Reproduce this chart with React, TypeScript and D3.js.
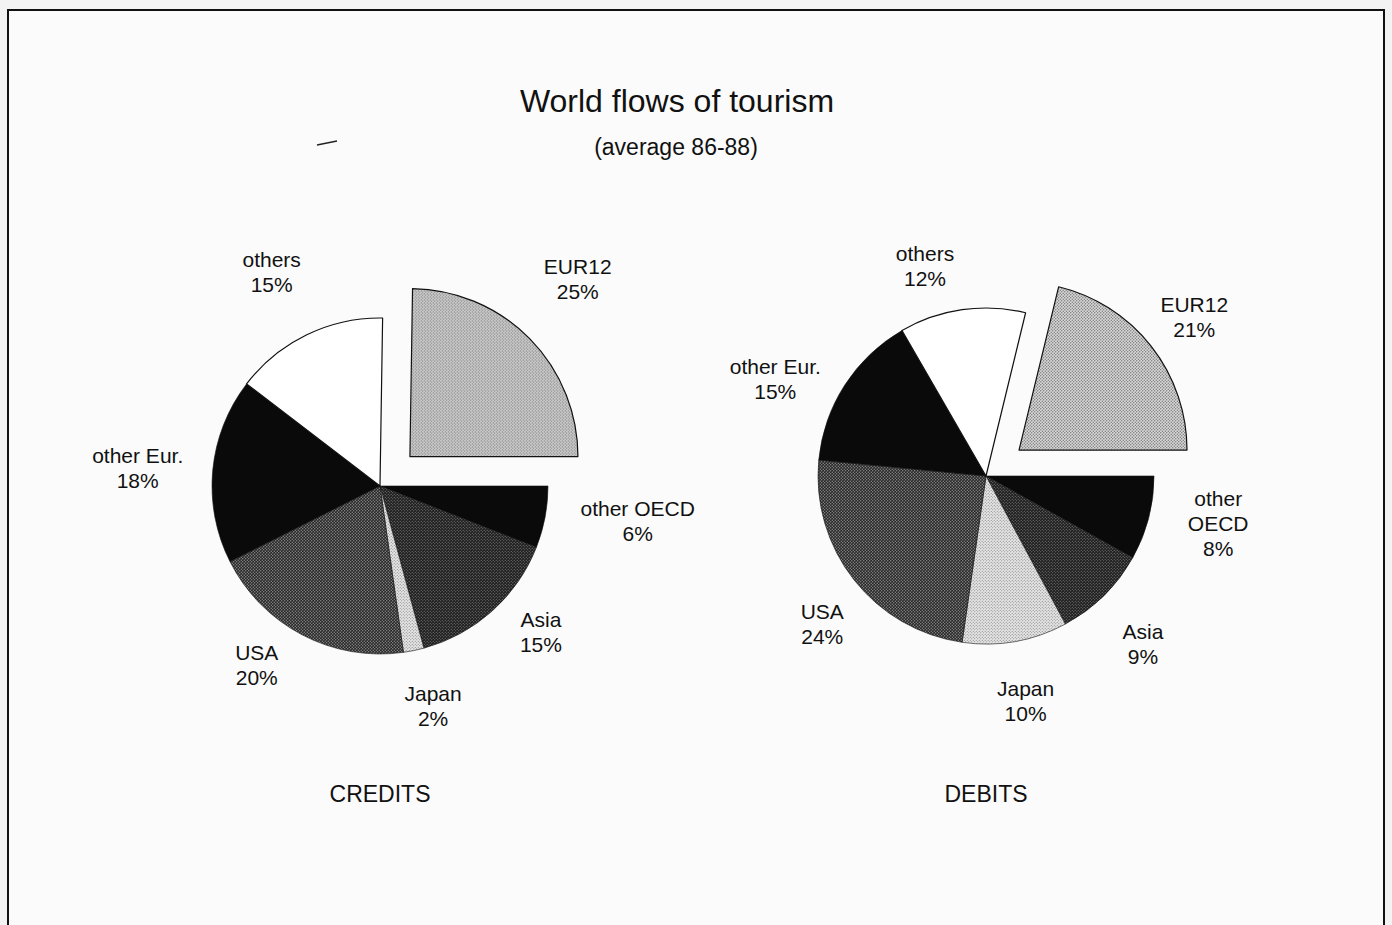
import React, { useEffect, useRef } from "react";
import * as d3 from "d3";

// shares in percent, clockwise from the exploded EUR12 slice
const categories = ["EUR12", "other OECD", "Asia", "Japan", "USA", "other Eur.", "others"];
const creditShares = [25, 6, 15, 2, 20, 18, 15];
const debitShares = [21, 8, 9, 10, 24, 15, 12];

const W = 1392;
const H = 925;
const FONT = "'Liberation Sans', Arial, Helvetica, sans-serif";

const fills = ["url(#pEur)", "#0a0a0a", "url(#pAsia)", "url(#pJapan)", "url(#pUsa)", "#0a0a0a", "#ffffff"];

// label placement tweaks: distance from centre and angle nudge (degrees)
const charts = [
  {
    title: "CREDITS", shares: creditShares, cx: 380, cy: 486, wrap: false,
    labelR: [244, 260, 217, 226, 217, 243, 240],
    labelDA: [-2, -3, -6, -2, 7, -1, -1],
  },
  {
    title: "DEBITS", shares: debitShares, cx: 986, cy: 476, wrap: true,
    labelR: [220, 237, 230, 228, 221, 232, 219],
    labelDA: [1, -3, 1.5, 0, -4, -8, -8],
  },
];

const App = () => {
  const ref = useRef<SVGSVGElement>(null);

  useEffect(() => {
    document.body.style.margin = "0";
    const svg = d3.select(ref.current);
    svg.selectAll("*").remove();
    svg.attr("width", W).attr("height", H);

    // stipple patterns
    const defs = svg.append("defs");
    const stipple = (id, bg, dot, r) => {
      const p = defs.append("pattern").attr("id", id).attr("patternUnits", "userSpaceOnUse")
        .attr("width", 3).attr("height", 3);
      p.append("rect").attr("width", 3).attr("height", 3).attr("fill", bg);
      p.append("circle").attr("cx", 0.75).attr("cy", 0.75).attr("r", r).attr("fill", dot);
      p.append("circle").attr("cx", 2.25).attr("cy", 2.25).attr("r", r).attr("fill", dot);
    };
    stipple("pEur", "#dcdcdc", "#6a6a6a", 0.7);
    stipple("pJapan", "#e6e6e6", "#7a7a7a", 0.6);
    stipple("pAsia", "#1e1e1e", "#8a8a8a", 0.6);
    stipple("pUsa", "#262626", "#9a9a9a", 0.65);

    svg.append("rect").attr("width", W).attr("height", H).attr("fill", "#f3f3f3");
    svg.append("rect").attr("x", 8).attr("y", 10).attr("width", 1376).attr("height", 940)
      .attr("fill", "#fbfbfb").attr("stroke", "#111").attr("stroke-width", 2);

    svg.append("text").attr("x", 677).attr("y", 112).attr("text-anchor", "middle")
      .attr("font-family", FONT).attr("font-size", 32).attr("fill", "#111")
      .text("World flows of tourism");
    svg.append("text").attr("x", 676).attr("y", 155).attr("text-anchor", "middle")
      .attr("font-family", FONT).attr("font-size", 23).attr("fill", "#111")
      .text("(average 86-88)");
    svg.append("line").attr("x1", 317).attr("y1", 145).attr("x2", 337).attr("y2", 141)
      .attr("stroke", "#222").attr("stroke-width", 1.5);

    const r = 168;
    const explode = 42;
    const arc = d3.arc().innerRadius(0).outerRadius(r);

    charts.forEach((c) => {
      const total = d3.sum(c.shares);
      const start = Math.PI / 2 - (c.shares[0] / total) * 2 * Math.PI;
      const pie = d3.pie().sort(null).value((d) => d).startAngle(start).endAngle(start + 2 * Math.PI);
      const arcs = pie(c.shares);

      const g = svg.append("g").attr("transform", `translate(${c.cx},${c.cy})`);

      arcs.forEach((a, i) => {
        const mid = (a.startAngle + a.endAngle) / 2;
        const off = i === 0 ? explode : 0;
        const ox = Math.sin(mid) * off;
        const oy = -Math.cos(mid) * off;
        g.append("path")
          .attr("d", arc(a))
          .attr("transform", `translate(${ox},${oy})`)
          .attr("fill", fills[i])
          .attr("stroke", "#111")
          .attr("stroke-width", i === 6 || i === 0 ? 1.2 : 0.6)
          .attr("stroke-linejoin", "round");

        const la = mid + (c.labelDA[i] * Math.PI) / 180;
        const lr = c.labelR[i];
        const lx = ox + Math.sin(la) * lr;
        const ly = oy - Math.cos(la) * lr;
        let lines = [categories[i], `${c.shares[i]}%`];
        if (c.wrap && categories[i] === "other OECD") {
          lines = ["other", "OECD", `${c.shares[i]}%`];
        }
        const lh = 25;
        const t = g.append("text").attr("text-anchor", "middle").attr("font-family", FONT)
          .attr("font-size", 21).attr("fill", "#111");
        lines.forEach((s, k) => {
          t.append("tspan").attr("x", lx)
            .attr("y", ly + (k - (lines.length - 1) / 2) * lh + 7.5)
            .text(s);
        });
      });

      svg.append("text").attr("x", c.cx).attr("y", 802).attr("text-anchor", "middle")
        .attr("font-family", FONT).attr("font-size", 23).attr("fill", "#111")
        .text(c.title);
    });
  });

  return <svg ref={ref} style={{ display: "block" }}></svg>;
};

export default App;
